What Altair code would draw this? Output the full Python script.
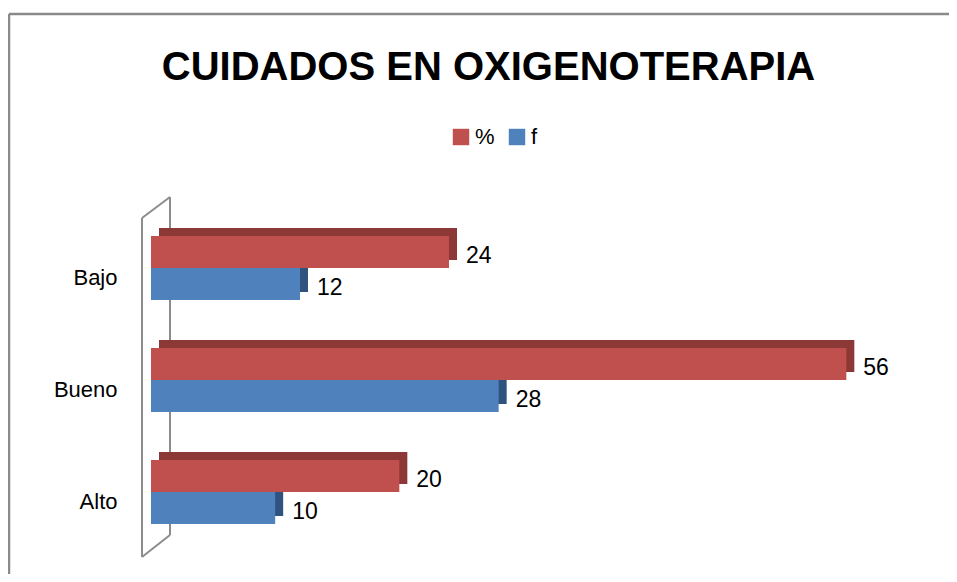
import altair as alt
import pandas as pd

categories = ["Bajo", "Bueno", "Alto"]
pct_values = [24, 56, 20]
f_values = [12, 28, 10]
series = ["%", "f"]
front_colors = ["#C0504D", "#4F81BD"]
back_colors = ["#8C3836", "#30527F"]
title_text = "CUIDADOS EN OXIGENOTERAPIA"

rows = []
for c, p, f in zip(categories, pct_values, f_values):
    rows.append({"cat": c, "series": "%", "value": p})
    rows.append({"cat": c, "series": "f", "value": f})
df = pd.DataFrame(rows)

FONT = "Liberation Sans"
W, H = 745, 336
BAR = 32

x = alt.X("value:Q", scale=alt.Scale(domain=[0, 60]), axis=None)
y = alt.Y(
    "cat:N",
    sort=categories,
    scale=alt.Scale(domain=categories, paddingInner=0, paddingOuter=0),
    axis=alt.Axis(
        title=None, domain=False, ticks=False, grid=False,
        labelFontSize=22, labelFont=FONT, labelColor="#000000",
        labelPadding=34, labelBaseline="alphabetic", labelOffset=17,
    ),
)

base = alt.Chart(df)
pct_base = base.transform_filter(alt.datum.series == "%")
f_base = base.transform_filter(alt.datum.series == "f")

one = alt.Data(values=[{"k": 1}])


def seg(x1, y1, x2, y2, color="#8C8C8C", sw=2):
    return alt.Chart(one).mark_rule(color=color, strokeWidth=sw).encode(
        x=alt.value(x1), y=alt.value(y1), x2=alt.value(x2), y2=alt.value(y2)
    )


# 3D wall outline
wall = [
    seg(-9, 6, -9, 345),
    seg(19, -15, 19, 323),
    seg(-9, 6, 19, -15),
    seg(-9, 345, 19, 323),
]
# chart border
border = [
    seg(-142, -198, 806, -198, "#8A8A8A", 2.5),
    seg(-142, -198, -142, 370, "#8A8A8A", 2.5),
]

color = alt.Color(
    "series:N",
    scale=alt.Scale(domain=series, range=front_colors),
    legend=alt.Legend(title=None, orient="none", direction="horizontal",
                      legendX=299, legendY=-86),
)

back_pct = pct_base.mark_bar(color=back_colors[0], height=BAR, yOffset=-BAR / 2 - 8,
                             xOffset=8, x2Offset=8).encode(x=x, y=y)
back_f = f_base.mark_bar(color=back_colors[1], height=BAR, yOffset=BAR / 2 - 8,
                         xOffset=8, x2Offset=8).encode(x=x, y=y)
front_pct = pct_base.mark_bar(height=BAR, yOffset=-BAR / 2).encode(x=x, y=y, color=color)
front_f = f_base.mark_bar(height=BAR, yOffset=BAR / 2).encode(x=x, y=y, color=color)

lab_pct = pct_base.mark_text(align="left", baseline="alphabetic", dx=17, yOffset=-5,
                             fontSize=23, font=FONT, color="#000000").encode(
    x=x, y=y, text="value:Q")
lab_f = f_base.mark_text(align="left", baseline="alphabetic", dx=17, yOffset=27,
                         fontSize=23, font=FONT, color="#000000").encode(
    x=x, y=y, text="value:Q")

title = alt.Chart(one).mark_text(
    align="center", baseline="alphabetic", fontSize=40, fontWeight="bold",
    font=FONT, color="#000000"
).encode(x=alt.value(337.5), y=alt.value(-132), text=alt.value(title_text))

chart = alt.layer(
    *border, *wall, back_pct, back_f, front_pct, front_f, lab_pct, lab_f, title
).properties(
    width=W, height=H,
    background="#FFFFFF",
    autosize=alt.AutoSizeParams(type="none"),
    padding={"left": 143, "top": 204, "right": 53, "bottom": 26},
).configure_view(
    strokeWidth=0, stroke="transparent"
).configure_legend(
    padding=0, symbolType="square", symbolSize=270, symbolStrokeWidth=0,
    labelFontSize=22, labelFont=FONT, labelColor="#000000",
    labelOffset=3, columnPadding=11, labelLimit=200,
)

chart.save("out.html", embed_options={"renderer": "svg", "actions": False})
